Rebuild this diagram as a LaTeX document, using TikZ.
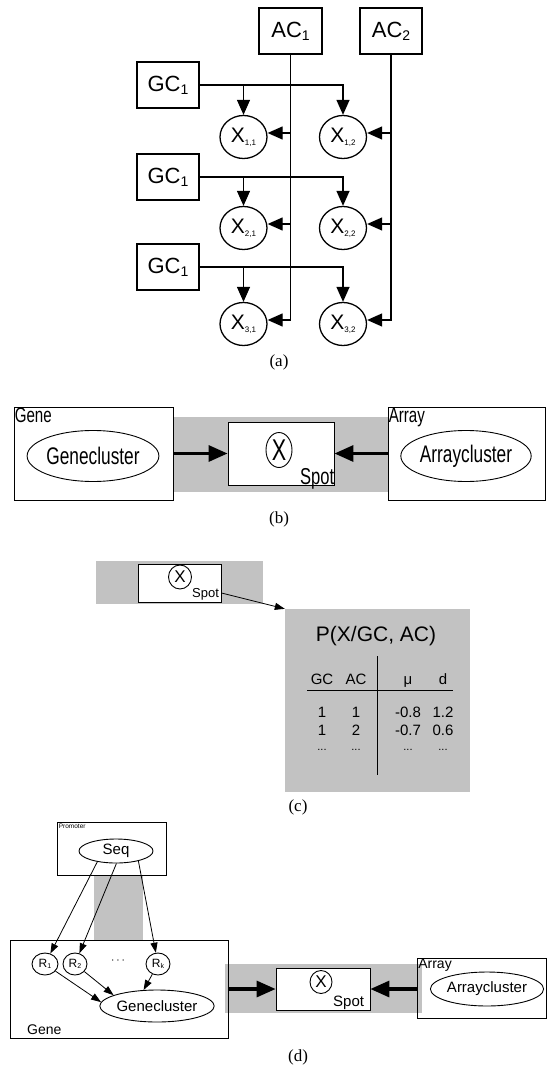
\documentclass[tikz,border=0pt]{standalone}
\usepackage{fontspec}
\setmainfont{Liberation Serif}
\newfontfamily\arial{Liberation Sans}
\newfontfamily\arialc[FakeStretch=0.72]{Liberation Sans}
\usetikzlibrary{arrows.meta,shapes.geometric}
\newcommand\fsz[1]{\fontsize{#1}{#1}\selectfont}
\newcommand\mysub[2]{#1\raisebox{-3pt}{\fsz{8}#2}}
\newcommand\mysubb[2]{#1\raisebox{-3pt}{\fsz{14}#2}}
\begin{document}
\begin{tikzpicture}[x=1pt,y=-1pt,
  lw/.style={line width=1.3pt},
  box/.style={draw,lw,inner sep=0pt,font=\arial\fsz{22}},
  xnode/.style={draw,ellipse,lw,inner sep=0pt,minimum width=47pt,minimum height=43pt,font=\arial\fsz{21}},
  arr/.style={lw,-{Triangle[length=15pt,width=13pt]}},
  fatarr/.style={line width=3.2pt,-{Triangle[length=19pt,width=16pt]}},
  thinarr/.style={line width=0.8pt,-{Triangle[length=10pt,width=7pt]}},
  shade/.style={fill=black!24},
  plain/.style={draw,line width=0.9pt,inner sep=0pt},
  oval/.style={draw,ellipse,line width=0.9pt,inner sep=0pt},
  lbl/.style={font=\fsz{17}},
  cell/.style={font=\arial\fsz{15},anchor=base}
]
\useasboundingbox (0,0) rectangle (547,1067);

% ---------------- (a)
\node[box,minimum width=63pt,minimum height=46pt] (ac1) at (290.5,31) {\mysubb{AC}{1}};
\node[box,minimum width=62pt,minimum height=46pt] (ac2) at (391,31) {\mysubb{AC}{2}};
\node[box,minimum width=62pt,minimum height=46pt] (gc1) at (168,85) {\mysubb{GC}{1}};
\node[box,minimum width=62pt,minimum height=46pt] (gc2) at (168,177) {\mysubb{GC}{1}};
\node[box,minimum width=62pt,minimum height=46pt] (gc3) at (168,267) {\mysubb{GC}{1}};
\node[xnode] (x11) at (243.5,137) {\mysub{X}{1,1}};
\node[xnode] (x12) at (343,137) {\mysub{X}{1,2}};
\node[xnode] (x21) at (243.5,228) {\mysub{X}{2,1}};
\node[xnode] (x22) at (343,228) {\mysub{X}{2,2}};
\node[xnode] (x31) at (243.5,324) {\mysub{X}{3,1}};
\node[xnode] (x32) at (343,324) {\mysub{X}{3,2}};
\draw[arr] (ac1.south) |- ([yshift=4pt]x31.east);
\draw[arr] (ac1.south |- x11.east) ++(0,-4) -- ([yshift=4pt]x11.east);
\draw[arr] (ac1.south |- x21.east) ++(0,-4) -- ([yshift=4pt]x21.east);
\draw[arr] (ac2.south) |- ([yshift=4pt]x32.east);
\draw[arr] (ac2.south |- x12.east) ++(0,-4) -- ([yshift=4pt]x12.east);
\draw[arr] (ac2.south |- x22.east) ++(0,-4) -- ([yshift=4pt]x22.east);
\draw[arr] (gc1.east) -| (x12.north);
\draw[arr] (gc1.east -| x11.north) -- (x11.north);
\draw[arr] (gc2.east) -| (x22.north);
\draw[arr] (gc2.east -| x21.north) -- (x21.north);
\draw[arr] (gc3.east) -| (x32.north);
\draw[arr] (gc3.east -| x31.north) -- (x31.north);
\node[lbl] (la) at (279,362) {(a)};

% ---------------- (b)
\fill[shade] (173,417) rectangle (388,492);
\node[plain,minimum width=159pt,minimum height=93pt] (geneB) at (93.5,453.5) {};
\node[plain,minimum width=157pt,minimum height=93pt] (arrayB) at (466.5,453.5) {};
\node[plain,fill=white,minimum width=106pt,minimum height=63pt] (spotB) at (281,453.5) {};
\node[anchor=north west,inner sep=1pt,font=\arialc\fsz{21}] (geneBl) at (geneB.north west) {Gene};
\node[anchor=north west,inner sep=1pt,font=\arialc\fsz{21}] (arrayBl) at (arrayB.north west) {Array};
\node[oval,minimum width=108pt,minimum height=51pt,font=\arialc\fsz{24}] (gcB) at (93,456) {Genecluster};
\node[oval,minimum width=110pt,minimum height=51pt,font=\arialc\fsz{24}] (acB) at (466,456) {Arraycluster};
\node[oval,minimum width=26pt,minimum height=35pt,font=\arialc\fsz{30}] (xB) at (279,450) {X};
\node[anchor=base east,inner sep=0pt,font=\arialc\fsz{23}] (spotBl) at ([yshift=1pt]spotB.south east) {Spot};
\draw[fatarr] (geneB.east) -- (spotB.west);
\draw[fatarr] (arrayB.west) -- (spotB.east);
\node[lbl] (lb) at (279,519) {(b)};

% ---------------- (c)
\fill[shade] (96,561) rectangle (263,604);
\node[plain,fill=white,minimum width=83pt,minimum height=38pt] (spotC) at (179.5,583) {};
\node[oval,minimum width=23pt,minimum height=24pt,font=\arial\fsz{17}] (xC) at (180,577) {X};
\node[anchor=base west,inner sep=0pt,font=\arial\fsz{13}] (spotCl) at (192,597) {Spot};
\node[shade,minimum width=185pt,minimum height=183pt,inner sep=0pt] (tab) at (377.5,700.5) {};
\draw[thinarr] ([yshift=-10pt]spotC.east) -- (tab.north west);
\node[font=\arial\fsz{21}] (ptitle) at (376,636) {P(X/GC, AC)};
\coordinate (vt) at (377,656);
\coordinate (vb) at (377,775);
\coordinate (hl) at (307,690);
\coordinate (hr) at (453,690);
\draw[line width=1pt] (vt) -- (vb);
\draw[line width=1pt] (hl) -- (hr);
\node[cell] at (322,684) {GC};
\node[cell] at (356,684) {AC};
\node[cell] at (408,684) {μ};
\node[cell] at (443,684) {d};
\node[cell] at (322,717) {1};
\node[cell] at (356,717) {1};
\node[cell] at (408,717) {-0.8};
\node[cell] at (443,717) {1.2};
\node[cell] at (322,735) {1};
\node[cell] at (356,735) {2};
\node[cell] at (408,735) {-0.7};
\node[cell] at (443,735) {0.6};
\node[cell,font=\arial\fsz{11}] at (322,750) {...};
\node[cell,font=\arial\fsz{11}] at (356,750) {...};
\node[cell,font=\arial\fsz{11}] at (408,750) {...};
\node[cell,font=\arial\fsz{11}] at (443,750) {...};
\node[lbl] (lc) at (298,807) {(c)};

% ---------------- (d)
\fill[shade] (94,875) rectangle (143,940);
\fill[shade] (225,964) rectangle (422,1013);
\node[plain,line width=0.8pt,minimum width=109pt,minimum height=53pt] (prom) at (111.5,848.5) {};
\node[anchor=north west,inner sep=2pt,font=\arial\fsz{6.5}] (proml) at (prom.north west) {Promoter};
\node[oval,minimum width=74pt,minimum height=24pt,font=\arial\fsz{15}] (seq) at (116,851) {Seq};
\node[plain,line width=0.8pt,minimum width=218pt,minimum height=98pt] (geneD) at (119,989) {};
\node[oval,minimum width=26pt,minimum height=22pt,font=\arial\fsz{12}] (r1) at (45,964) {R\raisebox{-1pt}{\fsz{7}1}};
\node[oval,minimum width=24pt,minimum height=22pt,font=\arial\fsz{12}] (r2) at (75,964) {R\raisebox{-1pt}{\fsz{7}2}};
\node[oval,minimum width=24pt,minimum height=22pt,font=\arial\fsz{12}] (rk) at (158,964) {R\raisebox{-1pt}{\fsz{7}k}};
\node[font=\arial\fsz{13}] (dots) at (118,961) {$\cdots$};
\node[oval,minimum width=94pt,minimum height=32pt,font=\arial\fsz{15}] (gcD) at (157,1006) {Genecluster};
\node[anchor=base west,inner sep=0pt,font=\arial\fsz{14}] (geneDl) at (27,1034) {Gene};
\draw[thinarr] (seq.210) -- (r1);
\draw[thinarr] (seq.272) -- (r2);
\draw[thinarr] (seq.336) -- (rk);
\draw[thinarr] (r1) -- (gcD.176);
\draw[thinarr] (r2) -- (gcD.166);
\draw[thinarr] (rk) -- (gcD.130);
\node[plain,line width=0.8pt,fill=white,minimum width=94pt,minimum height=42pt] (spotD) at (323,989) {};
\node[oval,minimum width=22pt,minimum height=23pt,font=\arial\fsz{17}] (xD) at (321,982) {X};
\node[anchor=base west,inner sep=0pt,font=\arial\fsz{15}] (spotDl) at (333,1006) {Spot};
\node[plain,line width=0.8pt,minimum width=129pt,minimum height=60pt] (arrayD) at (481.5,988) {};
\node[anchor=north west,inner sep=1.5pt,font=\arial\fsz{14}] (arrayDl) at (arrayD.north west) {Array};
\node[oval,minimum width=94pt,minimum height=34pt,font=\arial\fsz{15}] (acD) at (487,989) {Arraycluster};
\draw[fatarr] (geneD.east |- spotD.west) -- (spotD.west);
\draw[fatarr] (arrayD.west |- spotD.east) -- (spotD.east);
\node[lbl] (ld) at (298,1057) {(d)};
\end{tikzpicture}
\end{document}
